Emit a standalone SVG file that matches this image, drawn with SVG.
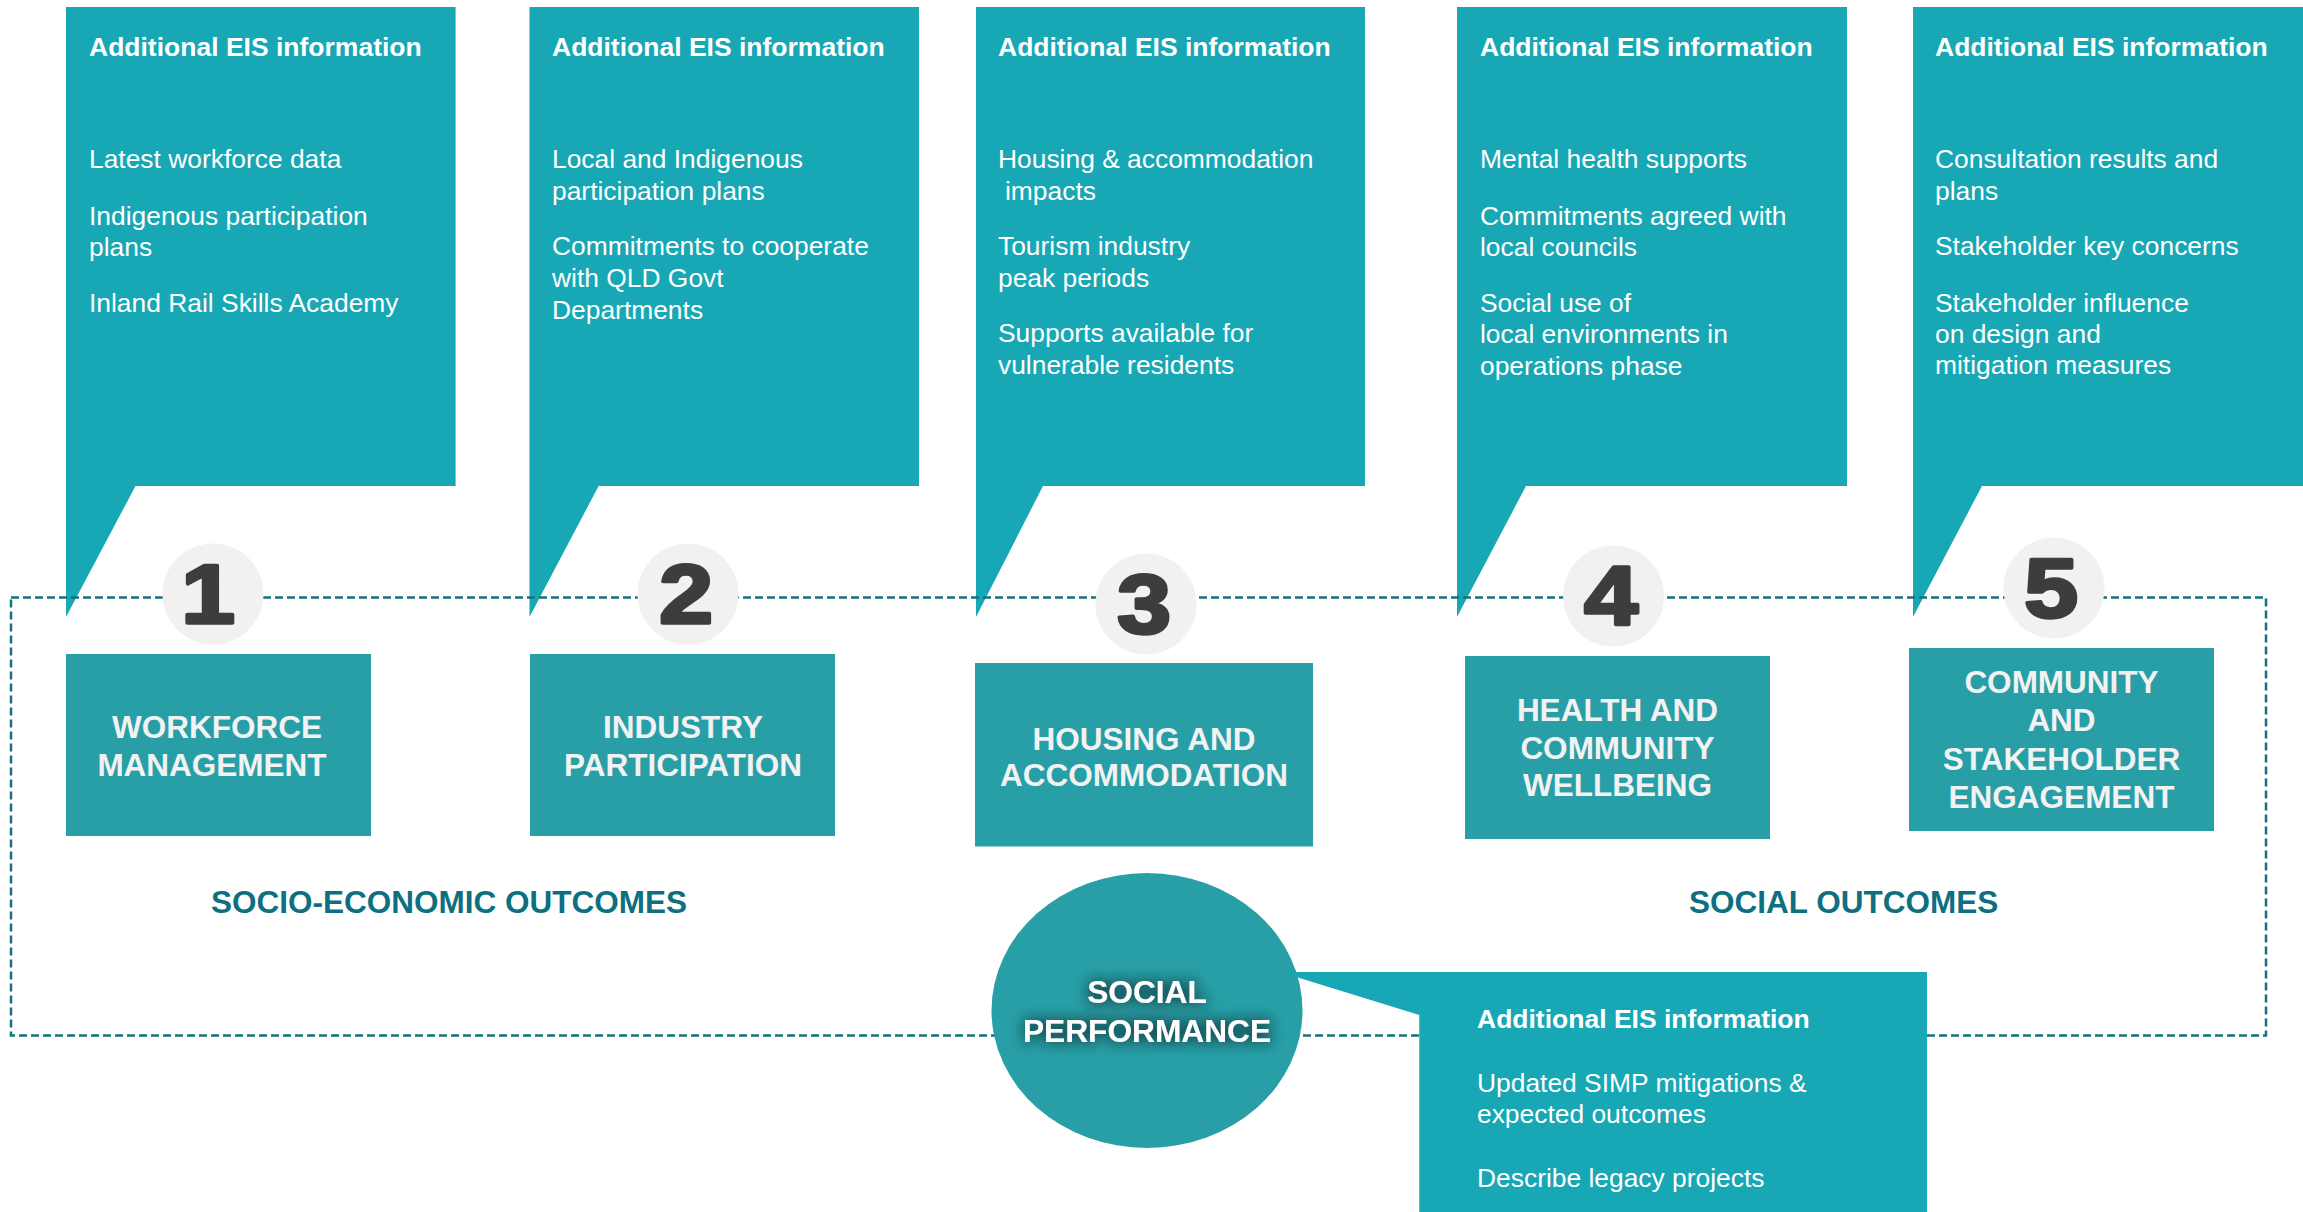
<svg xmlns="http://www.w3.org/2000/svg" width="2303" height="1212" viewBox="0 0 2303 1212">
<defs>
<style>
.callout{fill:#17a7b5;}
.hdr{font-family:"Liberation Sans",Arial,sans-serif;font-weight:bold;font-size:26.5px;fill:#ffffff;}
.body{font-family:"Liberation Sans",Arial,sans-serif;font-size:26.4px;fill:#ffffff;}
.box{fill:#289fa6;}
.boxtxt{font-family:"Liberation Sans",Arial,sans-serif;font-weight:bold;font-size:31.5px;fill:#f2f2f2;text-anchor:middle;}
.circ{fill:#f2f1ef;}
.num{font-family:"Liberation Sans",Arial,sans-serif;font-weight:bold;font-size:84px;fill:#3d3d3f;stroke:#3d3d3f;stroke-width:3.5;stroke-linejoin:round;text-anchor:middle;}
.sect{font-family:"Liberation Sans",Arial,sans-serif;font-weight:bold;font-size:31.5px;fill:#0d6f80;}
.frame{fill:none;stroke:#16707f;stroke-width:2.5;stroke-dasharray:8 4;}
.perf{font-family:"Liberation Sans",Arial,sans-serif;font-weight:bold;font-size:31.7px;fill:#ffffff;text-anchor:middle;}
</style>
<filter id="glow" x="-25%" y="-70%" width="150%" height="240%">
<feMorphology in="SourceAlpha" operator="dilate" radius="2" result="d"/>
<feGaussianBlur in="d" stdDeviation="7" result="b"/>
<feFlood flood-color="#15555a" flood-opacity="1"/>
<feComposite in2="b" operator="in" result="s"/>
<feMerge><feMergeNode in="s"/><feMergeNode in="SourceGraphic"/></feMerge>
</filter>
</defs>
<rect width="2303" height="1212" fill="#ffffff"/>

<!-- Top callouts -->
<g id="callout1">
<polygon class="callout" points="66,7 455.6,7 455.6,486 135.5,486 66,617"/>
<text class="hdr" x="89" y="56">Additional EIS information</text>
<text class="body" x="89" y="168">Latest workforce data</text>
<text class="body" x="89" y="224.5">Indigenous participation</text>
<text class="body" x="89" y="256">plans</text>
<text class="body" x="89" y="312">Inland Rail Skills Academy</text>
</g>
<g id="callout2">
<polygon class="callout" points="529.5,7 919,7 919,486 598.6,486 529.5,617"/>
<text class="hdr" x="552" y="56">Additional EIS information</text>
<text class="body" x="552" y="168">Local and Indigenous</text>
<text class="body" x="552" y="199.5">participation plans</text>
<text class="body" x="552" y="255">Commitments to cooperate</text>
<text class="body" x="552" y="287">with QLD Govt</text>
<text class="body" x="552" y="319">Departments</text>
</g>
<g id="callout3">
<polygon class="callout" points="976,7 1365,7 1365,486 1043,486 976,617"/>
<text class="hdr" x="998" y="56">Additional EIS information</text>
<text class="body" x="998" y="168">Housing &amp; accommodation</text>
<text class="body" x="1005" y="199.5">impacts</text>
<text class="body" x="998" y="255">Tourism industry</text>
<text class="body" x="998" y="287">peak periods</text>
<text class="body" x="998" y="342">Supports available for</text>
<text class="body" x="998" y="374">vulnerable residents</text>
</g>
<g id="callout4">
<polygon class="callout" points="1457,7 1847,7 1847,486 1526,486 1457,617"/>
<text class="hdr" x="1480" y="56">Additional EIS information</text>
<text class="body" x="1480" y="168">Mental health supports</text>
<text class="body" x="1480" y="224.5">Commitments agreed with</text>
<text class="body" x="1480" y="256">local councils</text>
<text class="body" x="1480" y="312">Social use of</text>
<text class="body" x="1480" y="343">local environments in</text>
<text class="body" x="1480" y="375">operations phase</text>
</g>
<g id="callout5">
<polygon class="callout" points="1913,7 2303,7 2303,486 1982,486 1913,617"/>
<text class="hdr" x="1935" y="56">Additional EIS information</text>
<text class="body" x="1935" y="168">Consultation results and</text>
<text class="body" x="1935" y="199.5">plans</text>
<text class="body" x="1935" y="255">Stakeholder key concerns</text>
<text class="body" x="1935" y="312">Stakeholder influence</text>
<text class="body" x="1935" y="343">on design and</text>
<text class="body" x="1935" y="374">mitigation measures</text>
</g>

<!-- dashed boundary -->
<g id="connectors">
<rect class="frame" x="11" y="597.5" width="2255" height="438"/>
</g>

<!-- numbers -->
<g id="num1"><circle class="circ" cx="213" cy="594" r="50.5"/><text class="num" transform="translate(208,623) scale(1.15,1)">1</text></g>
<g id="num2"><circle class="circ" cx="688" cy="594" r="50.5"/><text class="num" transform="translate(686,623) scale(1.15,1)">2</text></g>
<g id="num3"><circle class="circ" cx="1146" cy="604" r="50.5"/><text class="num" transform="translate(1144,633) scale(1.15,1)">3</text></g>
<g id="num4"><circle class="circ" cx="1613.5" cy="596" r="50.5"/><text class="num" transform="translate(1611,625) scale(1.15,1)">4</text></g>
<g id="num5"><circle class="circ" cx="2054" cy="588" r="50.5"/><text class="num" transform="translate(2051,617) scale(1.15,1)">5</text></g>

<!-- outcome boxes -->
<g id="workforce">
<rect class="box" x="66" y="654" width="305" height="182"/>
<text class="boxtxt" x="217" y="737.5">WORKFORCE</text>
<text class="boxtxt" x="212" y="776">MANAGEMENT</text>
</g>
<g id="industry">
<rect class="box" x="530" y="654" width="305" height="182"/>
<text class="boxtxt" x="683" y="737.5">INDUSTRY</text>
<text class="boxtxt" x="683" y="776">PARTICIPATION</text>
</g>
<g id="housing">
<rect class="box" x="975" y="663" width="338" height="183.5"/>
<text class="boxtxt" x="1144" y="749.5">HOUSING AND</text>
<text class="boxtxt" x="1144" y="786">ACCOMMODATION</text>
</g>
<g id="health">
<rect class="box" x="1465" y="656" width="305" height="183"/>
<text class="boxtxt" x="1617.5" y="721">HEALTH AND</text>
<text class="boxtxt" x="1617.5" y="758.5">COMMUNITY</text>
<text class="boxtxt" x="1617.5" y="796">WELLBEING</text>
</g>
<g id="community">
<rect class="box" x="1909" y="648" width="305" height="183"/>
<text class="boxtxt" x="2061.5" y="692.5">COMMUNITY</text>
<text class="boxtxt" x="2061.5" y="731">AND</text>
<text class="boxtxt" x="2061.5" y="769.5">STAKEHOLDER</text>
<text class="boxtxt" x="2061.5" y="808">ENGAGEMENT</text>
</g>

<!-- section labels -->
<text class="sect" x="211" y="913">SOCIO-ECONOMIC OUTCOMES</text>
<text class="sect" x="1689" y="913">SOCIAL OUTCOMES</text>

<!-- social performance -->
<g id="social-performance">
<ellipse cx="1147" cy="1010.5" rx="155.5" ry="137.5" fill="#289fa6"/>
<g filter="url(#glow)">
<text class="perf" x="1147" y="1003">SOCIAL</text>
<text class="perf" x="1147" y="1041.7">PERFORMANCE</text>
</g>
</g>

<g id="callout6">
<polygon class="callout" points="1280,972 1927,972 1927,1212 1419.3,1212 1419.3,1015"/>
<text class="hdr" x="1477" y="1027.5">Additional EIS information</text>
<text class="body" x="1477" y="1091.5">Updated SIMP mitigations &amp;</text>
<text class="body" x="1477" y="1123">expected outcomes</text>
<text class="body" x="1477" y="1187">Describe legacy projects</text>
</g>
</svg>
